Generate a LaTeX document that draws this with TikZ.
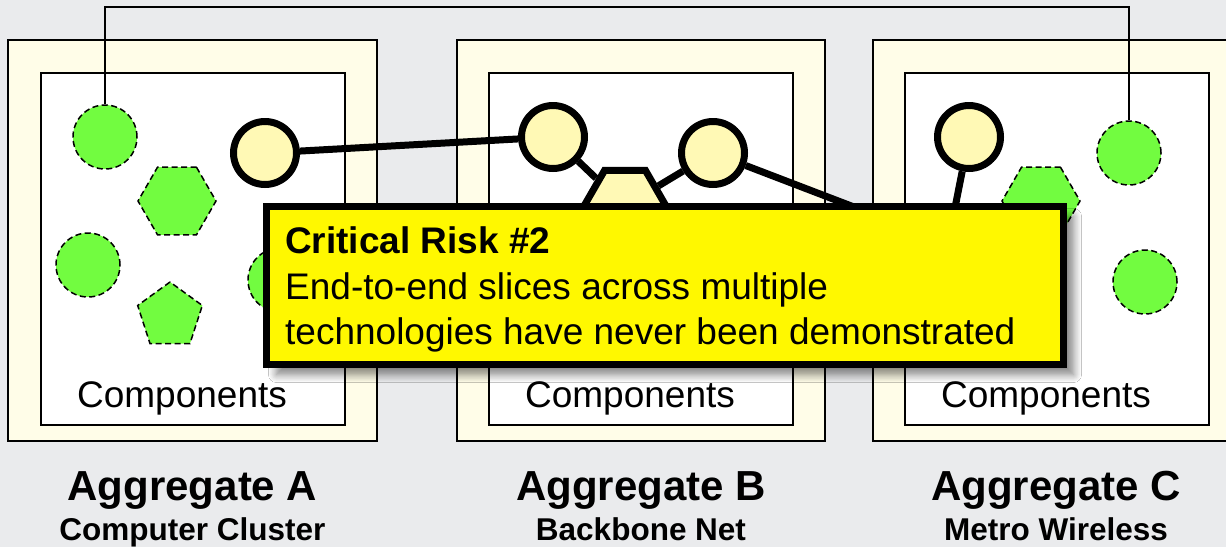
\documentclass[tikz,border=0pt]{standalone}
\usepackage{fontspec}
\setmainfont{Liberation Sans}
\usetikzlibrary{shapes.geometric,shadows.blur}
\definecolor{bgGray}{RGB}{234,235,237}
\definecolor{creamFill}{RGB}{255,253,232}
\definecolor{greenFill}{RGB}{114,252,64}
\definecolor{paleYellow}{RGB}{255,249,181}
\definecolor{calloutYellow}{RGB}{255,248,0}
\tikzset{
  outerbox/.style={draw=black, line width=2pt, fill=creamFill, inner sep=0pt},
  innerbox/.style={draw=black, line width=2pt, fill=white, inner sep=0pt},
  greenshape/.style={draw=black, line width=1.5pt, dash pattern=on 6pt off 3.5pt, fill=greenFill, inner sep=0pt},
  greencirc/.style={greenshape, circle, minimum size=64pt},
  greenhex/.style={greenshape, regular polygon, regular polygon sides=6, minimum size=78pt},
  greenpent/.style={greenshape, regular polygon, regular polygon sides=5, minimum size=68pt},
  yellowcirc/.style={circle, draw=black, line width=7pt, fill=paleYellow, minimum size=63pt, inner sep=0pt},
  yellowhex/.style={regular polygon, regular polygon sides=6, draw=black, line width=7pt, fill=paleYellow, minimum size=82pt, inner sep=0pt},
  thicklink/.style={line width=7pt, draw=black},
  thinlink/.style={line width=2pt, draw=black},
  callout/.style={draw=black, line width=7pt, fill=calloutYellow, inner sep=0pt,
    blur shadow={shadow xshift=10pt, shadow yshift=-10pt, shadow blur steps=10, shadow blur radius=8pt, shadow opacity=50}},
  bodytext/.style={font=\fontsize{37}{45}\selectfont, inner sep=0pt},
  boldtext/.style={font=\fontsize{37}{45}\selectfont\bfseries, inner sep=0pt},
  titletext/.style={font=\fontsize{42}{48}\selectfont\bfseries, inner sep=0pt},
  subtitletext/.style={font=\fontsize{31.5}{36}\selectfont\bfseries, inner sep=0pt}
}
\begin{document}
\begin{tikzpicture}[x=1pt,y=-1pt]
\useasboundingbox (0,0) rectangle (1226,547);
\fill[bgGray] (0,0) rectangle (1226,547);
\begin{scope}
\clip (0,0) rectangle (1226,547);
% aggregate boxes
\node[outerbox, minimum width=369pt, minimum height=401pt] (aggA) at (192.5,240.5) {};
\node[innerbox, minimum width=304pt, minimum height=352pt] (compA) at (193,249) {};
\node[outerbox, minimum width=368pt, minimum height=401pt] (aggB) at (641,240.5) {};
\node[innerbox, minimum width=304pt, minimum height=352pt] (compB) at (641,249) {};
\node[outerbox, minimum width=369pt, minimum height=401pt] (aggC) at (1057.5,240.5) {};
\node[innerbox, minimum width=304pt, minimum height=352pt] (compC) at (1057,249) {};
% green components
\node[greencirc] (gA1) at (105,137) {};
\node[greenhex] (gA2) at (177,201) {};
\node[greencirc] (gA3) at (88,265) {};
\node[greenpent] (gA4) at (170,316) {};
\node[greencirc] (gA5) at (280,280) {};
\node[greencirc] (gC1) at (1129,153) {};
\node[greenhex] (gC2) at (1041,201) {};
\node[greencirc] (gC3) at (1145,282) {};
% top connector
\coordinate (busY) at (0,7);
\draw[thinlink] (gA1.north) |- (busY -| gC1) -- (gC1.north);
% yellow slice nodes
\node[yellowcirc] (y1) at (265,153) {};
\node[yellowcirc] (y2) at (553,137) {};
\node[yellowhex] (yh) at (625,206) {};
\node[yellowcirc] (y3) at (713,153) {};
\node[yellowcirc] (y4) at (969,137) {};
\coordinate (hiddenC) at (948,243);
\draw[thicklink] (y1) -- (y2);
\draw[thicklink] (y2) -- (yh);
\draw[thicklink] (yh) -- (y3);
\draw[thicklink] (y3) -- (hiddenC);
\draw[thicklink] (y4) -- (hiddenC);
\end{scope}
% callout
\node[callout, minimum width=797pt, minimum height=158pt] (risk) at (665,285.5) {};
\node[boldtext, anchor=base west] (riskTitle) at (285,253) {Critical Risk \#2};
\node[bodytext, anchor=base west] (riskLine1) at (285,299) {End-to-end slices across multiple};
\node[bodytext, anchor=base west] (riskLine2) at (285,344) {technologies have never been demonstrated};
% component labels
\node[bodytext, anchor=base] (labA) at (182,407) {Components};
\node[bodytext, anchor=base] (labB) at (630,407) {Components};
\node[bodytext, anchor=base] (labC) at (1046,407) {Components};
% titles
\node[titletext, anchor=base] (titleA) at (192.5,500) {Aggregate A};
\node[subtitletext, anchor=base] (subA) at (192.5,540) {Computer Cluster};
\node[titletext, anchor=base] (titleB) at (641,500) {Aggregate B};
\node[subtitletext, anchor=base] (subB) at (641,540) {Backbone Net};
\node[titletext, anchor=base] (titleC) at (1056,500) {Aggregate C};
\node[subtitletext, anchor=base] (subC) at (1056,540) {Metro Wireless};
\end{tikzpicture}
\end{document}
